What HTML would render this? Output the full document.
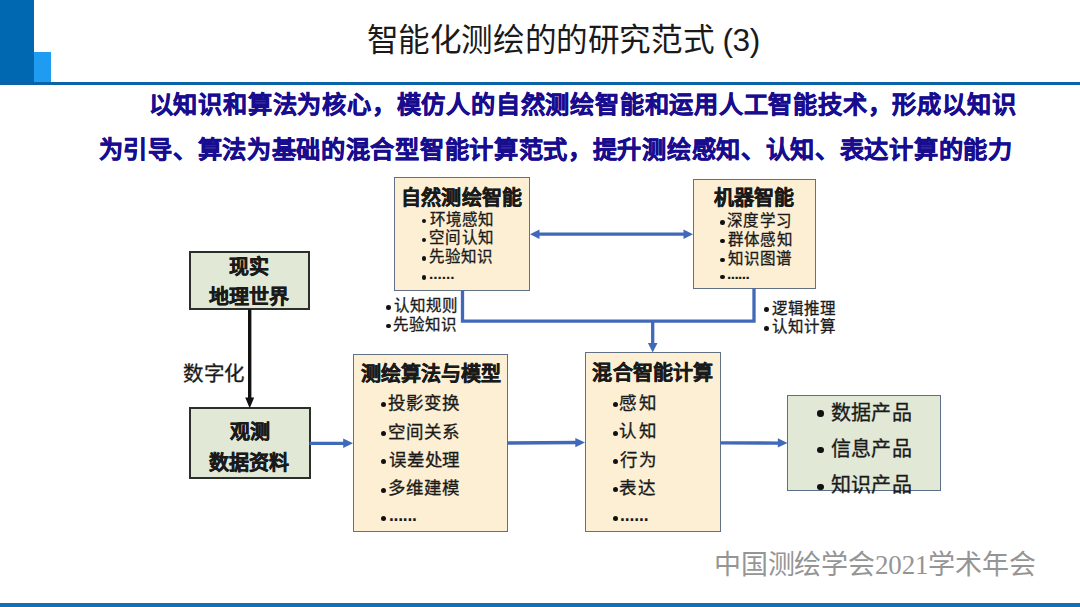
<!DOCTYPE html>
<html lang="zh-CN">
<head>
<meta charset="utf-8">
<title>智能化测绘的的研究范式 (3)</title>
<style>
html,body{margin:0;padding:0;}
body{width:1080px;height:607px;overflow:hidden;position:relative;background:#fff;font-family:"Liberation Sans",sans-serif;color:#1a1a1a;}
.a{position:absolute;white-space:nowrap;line-height:1;}
.bx{position:absolute;box-sizing:border-box;}
.y{background:#fcefd3;border:1.8px solid #627084;}
.g{background:#e1e8d6;border:2.2px solid #2b2f2b;}
.o{background:#e1e8d6;border:1.8px solid #5a6e88;}
.b{font-weight:bold;}
.d{position:absolute;border-radius:50%;background:#111;}
</style>
</head>
<body>
<div class="bx" style="left:0;top:0;width:34px;height:85px;background:#0068b0;"></div>
<div class="bx" style="left:34px;top:52px;width:17px;height:31px;background:#1e9cf2;"></div>
<div class="bx" style="left:0;top:82px;width:1080px;height:3.3px;background:#0a63a8;"></div>
<div class="bx" style="left:0;top:603px;width:1080px;height:4px;background:#1070b8;"></div>
<div class="bx g" style="left:188.60px;top:251.10px;width:121.40px;height:59.20px;"></div>
<div class="bx g" style="left:188.60px;top:407.40px;width:122.00px;height:72.10px;"></div>
<div class="bx y" style="left:393.50px;top:176.60px;width:136.60px;height:114.50px;"></div>
<div class="bx y" style="left:692.50px;top:178.90px;width:123.60px;height:110.30px;"></div>
<div class="bx y" style="left:352.50px;top:353.80px;width:155.70px;height:178.20px;"></div>
<div class="bx y" style="left:584.50px;top:352.30px;width:136.40px;height:179.50px;"></div>
<div class="bx o" style="left:786.70px;top:394.50px;width:154.30px;height:96.70px;"></div>
<svg class="a" style="left:0;top:0;" width="1080" height="607" viewBox="0 0 1080 607">
<g fill="none" stroke="#4169b9" stroke-width="3.3">
<line x1="538" y1="234.2" x2="685" y2="234.2"/>
<polyline points="462.5,290.5 462.5,321.2 754,321.2 754,288.5"/>
<line x1="652.7" y1="321" x2="652.7" y2="344"/>
<line x1="309.5" y1="443.3" x2="345" y2="443.3"/>
<line x1="507.5" y1="443" x2="577" y2="442.5"/>
<line x1="720.5" y1="442.8" x2="779" y2="443.1"/>
</g>
<g fill="#4169b9">
<polygon points="530,234.2 539.5,229.4 539.5,239"/>
<polygon points="693,234.2 683.5,229.4 683.5,239"/>
<polygon points="652.7,352.5 647.9,343 657.5,343"/>
<polygon points="353,443.2 343.2,438.5 343.2,447.9"/>
<polygon points="585,442.6 575.3,438 575.3,447.3"/>
<polygon points="787.5,443 777.8,438.3 777.8,447.6"/>
</g>
<line x1="249.7" y1="309.5" x2="249.7" y2="399" stroke="#111" stroke-width="3.4"/>
<polygon points="249.7,408.3 245.2,397.5 254.2,397.5" fill="#111"/>
</svg>
<div class="a" style="left:366.50px;top:25.00px;font-size:31.6px;letter-spacing:-0.400px;color:#1a1a1a;">智能化测绘的的研究范式 (3)</div>
<div class="a b" style="left:148.70px;top:93.10px;font-size:24.2px;letter-spacing:0.791px;color:#180d8f;-webkit-text-stroke:0.5px #180d8f;">以知识和算法为核心，模仿人的自然测绘智能和运用人工智能技术，形成以知识</div>
<div class="a b" style="left:98.75px;top:137.50px;font-size:24.2px;letter-spacing:0.701px;color:#180d8f;-webkit-text-stroke:0.5px #180d8f;">为引导、算法为基础的混合型智能计算范式，提升测绘感知、认知、表达计算的能力</div>
<div class="a b" style="left:229.30px;top:257.00px;font-size:20px;letter-spacing:-0.400px;color:#1a1a1a;-webkit-text-stroke:0.45px #1a1a1a;">现实</div>
<div class="a b" style="left:209.40px;top:287.20px;font-size:20px;letter-spacing:-0.067px;color:#1a1a1a;-webkit-text-stroke:0.45px #1a1a1a;">地理世界</div>
<div class="a b" style="left:229.50px;top:421.70px;font-size:20px;letter-spacing:0.000px;color:#1a1a1a;-webkit-text-stroke:0.45px #1a1a1a;">观测</div>
<div class="a b" style="left:208.80px;top:452.90px;font-size:20px;letter-spacing:0.067px;color:#1a1a1a;-webkit-text-stroke:0.45px #1a1a1a;">数据资料</div>
<div class="a" style="left:183.30px;top:363.90px;font-size:20.5px;letter-spacing:0.350px;color:#1a1a1a;-webkit-text-stroke:0.3px #1a1a1a;">数字化</div>
<div class="a b" style="left:401.00px;top:187.90px;font-size:20px;letter-spacing:0.240px;color:#1a1a1a;-webkit-text-stroke:0.45px #1a1a1a;">自然测绘智能</div>
<div class="a" style="left:429.50px;top:211.50px;font-size:15.5px;letter-spacing:0.100px;color:#1a1a1a;-webkit-text-stroke:0.3px #1a1a1a;">环境感知</div>
<div class="a" style="left:428.60px;top:230.10px;font-size:15.5px;letter-spacing:0.500px;color:#1a1a1a;-webkit-text-stroke:0.3px #1a1a1a;">空间认知</div>
<div class="a" style="left:428.60px;top:248.80px;font-size:15.5px;letter-spacing:0.167px;color:#1a1a1a;-webkit-text-stroke:0.3px #1a1a1a;">先验知识</div>
<div class="a b" style="left:429.00px;top:266.20px;font-size:15.5px;letter-spacing:-0.040px;color:#1a1a1a;">......</div>
<div class="a b" style="left:714.00px;top:188.30px;font-size:20px;letter-spacing:-0.100px;color:#1a1a1a;-webkit-text-stroke:0.45px #1a1a1a;">机器智能</div>
<div class="a" style="left:727.30px;top:213.10px;font-size:15.5px;letter-spacing:0.200px;color:#1a1a1a;-webkit-text-stroke:0.3px #1a1a1a;">深度学习</div>
<div class="a" style="left:727.50px;top:232.00px;font-size:15.5px;letter-spacing:0.367px;color:#1a1a1a;-webkit-text-stroke:0.3px #1a1a1a;">群体感知</div>
<div class="a" style="left:727.50px;top:250.60px;font-size:15.5px;letter-spacing:0.033px;color:#1a1a1a;-webkit-text-stroke:0.3px #1a1a1a;">知识图谱</div>
<div class="a b" style="left:727.00px;top:265.80px;font-size:15.5px;letter-spacing:-0.600px;color:#1a1a1a;">......</div>
<div class="a" style="left:393.50px;top:298.00px;font-size:15.5px;letter-spacing:0.033px;color:#1a1a1a;-webkit-text-stroke:0.3px #1a1a1a;">认知规则</div>
<div class="a" style="left:392.50px;top:316.90px;font-size:15.5px;letter-spacing:0.033px;color:#1a1a1a;-webkit-text-stroke:0.3px #1a1a1a;">先验知识</div>
<div class="a" style="left:771.60px;top:300.90px;font-size:15.5px;letter-spacing:0.133px;color:#1a1a1a;-webkit-text-stroke:0.3px #1a1a1a;">逻辑推理</div>
<div class="a" style="left:771.60px;top:319.00px;font-size:15.5px;letter-spacing:0.133px;color:#1a1a1a;-webkit-text-stroke:0.3px #1a1a1a;">认知计算</div>
<div class="a b" style="left:360.60px;top:364.20px;font-size:20px;letter-spacing:0.067px;color:#1a1a1a;-webkit-text-stroke:0.45px #1a1a1a;">测绘算法与模型</div>
<div class="a" style="left:387.80px;top:394.90px;font-size:17.5px;letter-spacing:1.233px;color:#1a1a1a;-webkit-text-stroke:0.3px #1a1a1a;">投影变换</div>
<div class="a" style="left:387.80px;top:423.50px;font-size:17.5px;letter-spacing:1.233px;color:#1a1a1a;-webkit-text-stroke:0.3px #1a1a1a;">空间关系</div>
<div class="a" style="left:388.80px;top:452.00px;font-size:17.5px;letter-spacing:0.900px;color:#1a1a1a;-webkit-text-stroke:0.3px #1a1a1a;">误差处理</div>
<div class="a" style="left:387.80px;top:480.20px;font-size:17.5px;letter-spacing:1.233px;color:#1a1a1a;-webkit-text-stroke:0.3px #1a1a1a;">多维建模</div>
<div class="a b" style="left:389.00px;top:507.10px;font-size:17.5px;letter-spacing:-0.260px;color:#1a1a1a;">......</div>
<div class="a b" style="left:592.40px;top:363.00px;font-size:20px;letter-spacing:0.200px;color:#1a1a1a;-webkit-text-stroke:0.45px #1a1a1a;">混合智能计算</div>
<div class="a" style="left:619.40px;top:394.70px;font-size:17.5px;letter-spacing:2.600px;color:#1a1a1a;-webkit-text-stroke:0.3px #1a1a1a;">感知</div>
<div class="a" style="left:619.40px;top:422.70px;font-size:17.5px;letter-spacing:2.600px;color:#1a1a1a;-webkit-text-stroke:0.3px #1a1a1a;">认知</div>
<div class="a" style="left:620.40px;top:451.50px;font-size:17.5px;letter-spacing:1.600px;color:#1a1a1a;-webkit-text-stroke:0.3px #1a1a1a;">行为</div>
<div class="a" style="left:619.40px;top:479.80px;font-size:17.5px;letter-spacing:1.600px;color:#1a1a1a;-webkit-text-stroke:0.3px #1a1a1a;">表达</div>
<div class="a b" style="left:620.00px;top:507.20px;font-size:17.5px;letter-spacing:-0.100px;color:#1a1a1a;">......</div>
<div class="a" style="left:830.70px;top:402.80px;font-size:20px;letter-spacing:0.400px;color:#1a1a1a;-webkit-text-stroke:0.3px #1a1a1a;">数据产品</div>
<div class="a" style="left:830.70px;top:439.00px;font-size:20px;letter-spacing:0.400px;color:#1a1a1a;-webkit-text-stroke:0.3px #1a1a1a;">信息产品</div>
<div class="a" style="left:830.70px;top:475.30px;font-size:20px;letter-spacing:0.400px;color:#1a1a1a;-webkit-text-stroke:0.3px #1a1a1a;">知识产品</div>
<div class="a" style="left:713.80px;top:551.50px;font-size:27px;letter-spacing:-0.138px;color:#959595;font-family:'Liberation Serif',serif;">中国测绘学会2021学术年会</div>
<div class="d" style="left:421.80px;top:218.50px;width:4.6px;height:4.6px;"></div>
<div class="d" style="left:421.80px;top:237.70px;width:4.6px;height:4.6px;"></div>
<div class="d" style="left:421.80px;top:256.10px;width:4.6px;height:4.6px;"></div>
<div class="d" style="left:421.80px;top:275.20px;width:4.6px;height:4.6px;"></div>
<div class="d" style="left:720.20px;top:220.20px;width:4.6px;height:4.6px;"></div>
<div class="d" style="left:720.20px;top:238.90px;width:4.6px;height:4.6px;"></div>
<div class="d" style="left:720.20px;top:257.60px;width:4.6px;height:4.6px;"></div>
<div class="d" style="left:720.20px;top:274.80px;width:4.6px;height:4.6px;"></div>
<div class="d" style="left:386.10px;top:305.40px;width:4.6px;height:4.6px;"></div>
<div class="d" style="left:386.10px;top:323.90px;width:4.6px;height:4.6px;"></div>
<div class="d" style="left:764.40px;top:307.40px;width:4.6px;height:4.6px;"></div>
<div class="d" style="left:764.40px;top:326.40px;width:4.6px;height:4.6px;"></div>
<div class="d" style="left:381.10px;top:402.30px;width:5.0px;height:5.0px;"></div>
<div class="d" style="left:381.10px;top:430.50px;width:5.0px;height:5.0px;"></div>
<div class="d" style="left:381.10px;top:459.40px;width:5.0px;height:5.0px;"></div>
<div class="d" style="left:381.10px;top:487.50px;width:5.0px;height:5.0px;"></div>
<div class="d" style="left:381.10px;top:515.70px;width:5.0px;height:5.0px;"></div>
<div class="d" style="left:612.90px;top:402.10px;width:5.0px;height:5.0px;"></div>
<div class="d" style="left:612.90px;top:430.60px;width:5.0px;height:5.0px;"></div>
<div class="d" style="left:612.90px;top:458.90px;width:5.0px;height:5.0px;"></div>
<div class="d" style="left:612.90px;top:486.90px;width:5.0px;height:5.0px;"></div>
<div class="d" style="left:612.90px;top:515.80px;width:5.0px;height:5.0px;"></div>
<div class="d" style="left:817.00px;top:410.30px;width:6.6px;height:6.6px;"></div>
<div class="d" style="left:817.00px;top:446.50px;width:6.6px;height:6.6px;"></div>
<div class="d" style="left:817.00px;top:483.70px;width:6.6px;height:6.6px;"></div>
</body>
</html>
